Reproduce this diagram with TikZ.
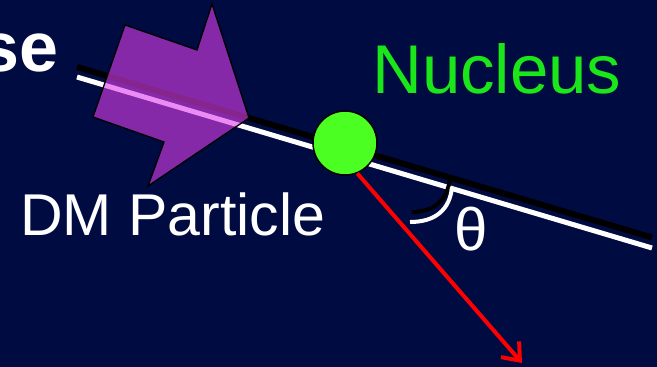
\documentclass[tikz,border=0pt]{standalone}
\usepackage{fontspec}
\setmainfont{Liberation Sans}
\usetikzlibrary{arrows.meta}
\definecolor{navy}{RGB}{0,11,66}
\definecolor{nucgreen}{RGB}{76,255,34}
\definecolor{labgreen}{RGB}{26,230,26}
\definecolor{dmpurple}{RGB}{222,62,236}
\tikzset{
  shadowline/.style={line width=6pt,black},
  trackline/.style={line width=5pt,white},
  txt/.style={anchor=base west,inner sep=0pt,text=white},
}
\begin{document}
\begin{tikzpicture}[x=1pt,y=-1pt]
\path[use as bounding box,fill=navy] (0,0) rectangle (657,367);
\coordinate (tin) at (77,77);
\coordinate (tout) at (652,248);
\draw[shadowline] ([yshift=10pt]tin) -- ([yshift=10.5pt]tout);
\draw[trackline] (tin) -- (tout);
\draw[shadowline,line width=4pt] (450,178) .. controls (448,199) and (435,212) .. (412,212);
\draw[trackline,line width=4pt] (452,187) .. controls (450,209) and (436,222) .. (410,222);
\draw[line width=1.3pt,fill=dmpurple,fill opacity=0.6] (125,25) -- (197,50) -- (212,4) -- (249,118) -- (148,186) -- (164,142) -- (93,117) -- cycle;
\node[circle,draw=black,line width=1.5pt,fill=nucgreen,minimum size=64pt,inner sep=0pt] (nuc) at (345,143) {};
\coordinate (recoil) at (522,363);
\draw[red,line width=4pt,-{Straight Barb[length=15pt,width=24pt]}] (nuc.-68) -- (recoil);
\node[txt,anchor=base east,font=\bfseries\fontsize{70pt}{84pt}\selectfont] (title) at (59,71) {se};
\node[txt,text=labgreen,font=\fontsize{69}{80}\selectfont] (nuclab) at (372,93) {Nucleus};
\node[txt,font=\fontsize{59}{70}\selectfont] (dmlab) at (20,235) {DM Particle};
\node[txt,font=\fontsize{60}{72}\selectfont] (thlab) at (454,250) {θ};
\end{tikzpicture}
\end{document}
